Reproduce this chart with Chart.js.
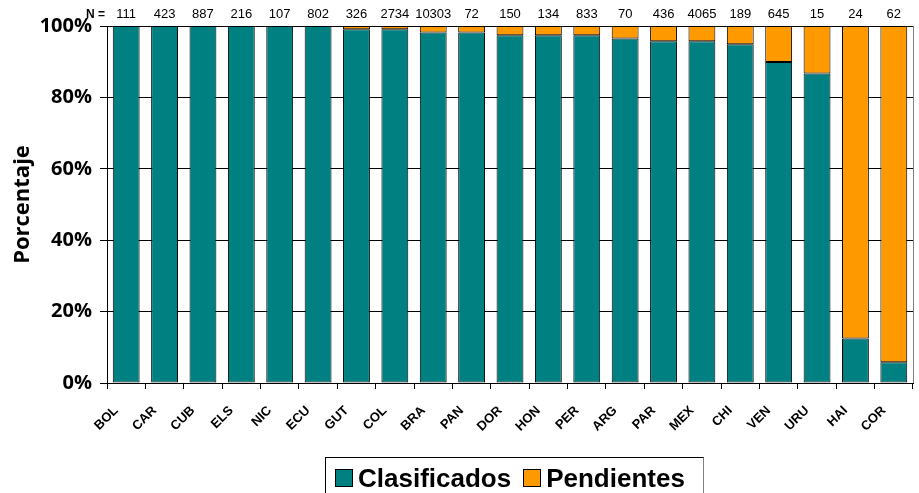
<!DOCTYPE html>
<html>
<head>
<meta charset="utf-8">
<title>Clasificados y pendientes por país</title>
<script src="https://cdn.jsdelivr.net/npm/chart.js@4.4.1/dist/chart.umd.min.js"></script>
<style>
  html, body { margin: 0; padding: 0; overflow: hidden; background: #fff; }
  #wrap { position: relative; width: 919px; height: 493px; }
  #legend {
    position: absolute; left: 325px; top: 457px; width: 368px; height: 40px;
    border: 1px solid #000; border-right-color: #808080;
    display: flex; align-items: center; padding-left: 9px;
    font: bold 26px "Liberation Sans", Arial, sans-serif; line-height: 26px;
  }
  #legend .box { width: 18px; height: 18px; box-sizing: border-box; border: 1px solid #000; margin-right: 5px; }
  #legend .item { display: flex; align-items: center; margin-right: 12px; }
</style>
</head>
<body>
<div id="wrap">
  <canvas id="grafico" width="919" height="493"></canvas>
  <div id="legend"></div>
</div>
<script>
// datos
const paises = ['BOL', 'CAR', 'CUB', 'ELS', 'NIC', 'ECU', 'GUT', 'COL', 'BRA', 'PAN', 'DOR',
  'HON', 'PER', 'ARG', 'PAR', 'MEX', 'CHI', 'VEN', 'URU', 'HAI', 'COR'];
const totalN = [111, 423, 887, 216, 107, 802, 326, 2734, 10303, 72, 150,
  134, 833, 70, 436, 4065, 189, 645, 15, 24, 62];
const clasificados = [100, 100, 100, 100, 100, 100, 99.1, 99.1, 98.2, 98.2, 97.4,
  97.4, 97.4, 96.5, 95.7, 95.7, 94.9, 89.9, 86.7, 12.5, 5.8];
const pendientes = [0, 0, 0, 0, 0, 0, 0.9, 0.9, 1.8, 1.8, 2.6,
  2.6, 2.6, 3.5, 4.3, 4.3, 5.1, 10.1, 13.3, 87.5, 94.2];
const ticksY = [0, 20, 40, 60, 80, 100];

const colores = { clasificados: '#008080', pendientes: '#FF9900' };

// N = ... encima de cada barra, y el borde derecho del area
const etiquetasN = {
  id: 'etiquetasN',
  afterDraw(chart) {
    const ctx = chart.ctx;
    const x = chart.scales.x;
    const area = chart.chartArea;
    ctx.save();
    ctx.fillStyle = '#000';
    ctx.textBaseline = 'alphabetic';
    ctx.textAlign = 'center';
    ctx.font = '13px "Liberation Sans", Arial, sans-serif';
    totalN.forEach((n, i) => {
      ctx.fillText(String(n), x.getPixelForValue(i), 18);
    });
    ctx.textAlign = 'right';
    ctx.font = 'bold 12px "Liberation Sans", Arial, sans-serif';
    ctx.fillText('N =', area.left - 2, 18);
    ctx.strokeStyle = '#808080';
    ctx.lineWidth = 1;
    ctx.beginPath();
    ctx.moveTo(area.right + 0.5, area.top);
    ctx.lineTo(area.right + 0.5, area.bottom);
    ctx.stroke();
    ctx.restore();
  }
};

const data = {
  labels: paises,
  datasets: [{
    label: 'Clasificados',
    data: clasificados,
    backgroundColor: colores.clasificados,
    borderColor: '#000',
    borderWidth: 1,
    borderSkipped: false
  }, {
    label: 'Pendientes',
    data: pendientes,
    backgroundColor: colores.pendientes,
    borderColor: '#000',
    borderWidth: 1,
    borderSkipped: false
  }]
};

const config = {
  type: 'bar',
  data,
  options: {
    responsive: false,
    animation: false,
    datasets: { bar: { barPercentage: 0.7, categoryPercentage: 1 } },
    layout: { padding: { left: 0, top: 26, right: 6, bottom: 0 } },
    plugins: {
      legend: { display: false },
      tooltip: { enabled: false }
    },
    scales: {
      x: {
        stacked: true,
        afterFit(scale) { scale.height = 110; },
        border: { color: '#000' },
        grid: { drawOnChartArea: false, color: '#000', tickLength: 6, offset: true },
        ticks: {
          color: '#000',
          autoSkip: false,
          minRotation: 45,
          maxRotation: 45,
          padding: 14,
          labelOffset: -10,
          font: { family: '"Liberation Sans", Arial, sans-serif', size: 13, weight: 'bold' }
        }
      },
      y: {
        stacked: true,
        min: 0,
        max: 100,
        afterFit(scale) { scale.width = 107; },
        afterBuildTicks(scale) { scale.ticks = ticksY.map(v => ({ value: v })); },
        border: { color: '#000' },
        grid: { color: '#000', tickLength: 7 },
        ticks: {
          color: '#000',
          padding: 8,
          callback: v => v + '%',
          font: { family: '"Open Sans", sans-serif', size: 20, weight: 'bold' }
        },
        title: {
          display: true,
          text: 'Porcentaje',
          color: '#000',
          padding: { top: 10, bottom: 0 },
          font: { family: '"Open Sans", sans-serif', size: 22, weight: 'bold' }
        }
      }
    }
  },
  plugins: [etiquetasN]
};

const myChart = new Chart(document.getElementById('grafico'), config);

// leyenda en html, con el recuadro como en el original
const leyenda = document.getElementById('legend');
myChart.data.datasets.forEach(ds => {
  const item = document.createElement('span');
  item.className = 'item';
  const box = document.createElement('span');
  box.className = 'box';
  box.style.background = ds.backgroundColor;
  item.appendChild(box);
  item.appendChild(document.createTextNode(ds.label));
  leyenda.appendChild(item);
});
</script>
</body>
</html>
